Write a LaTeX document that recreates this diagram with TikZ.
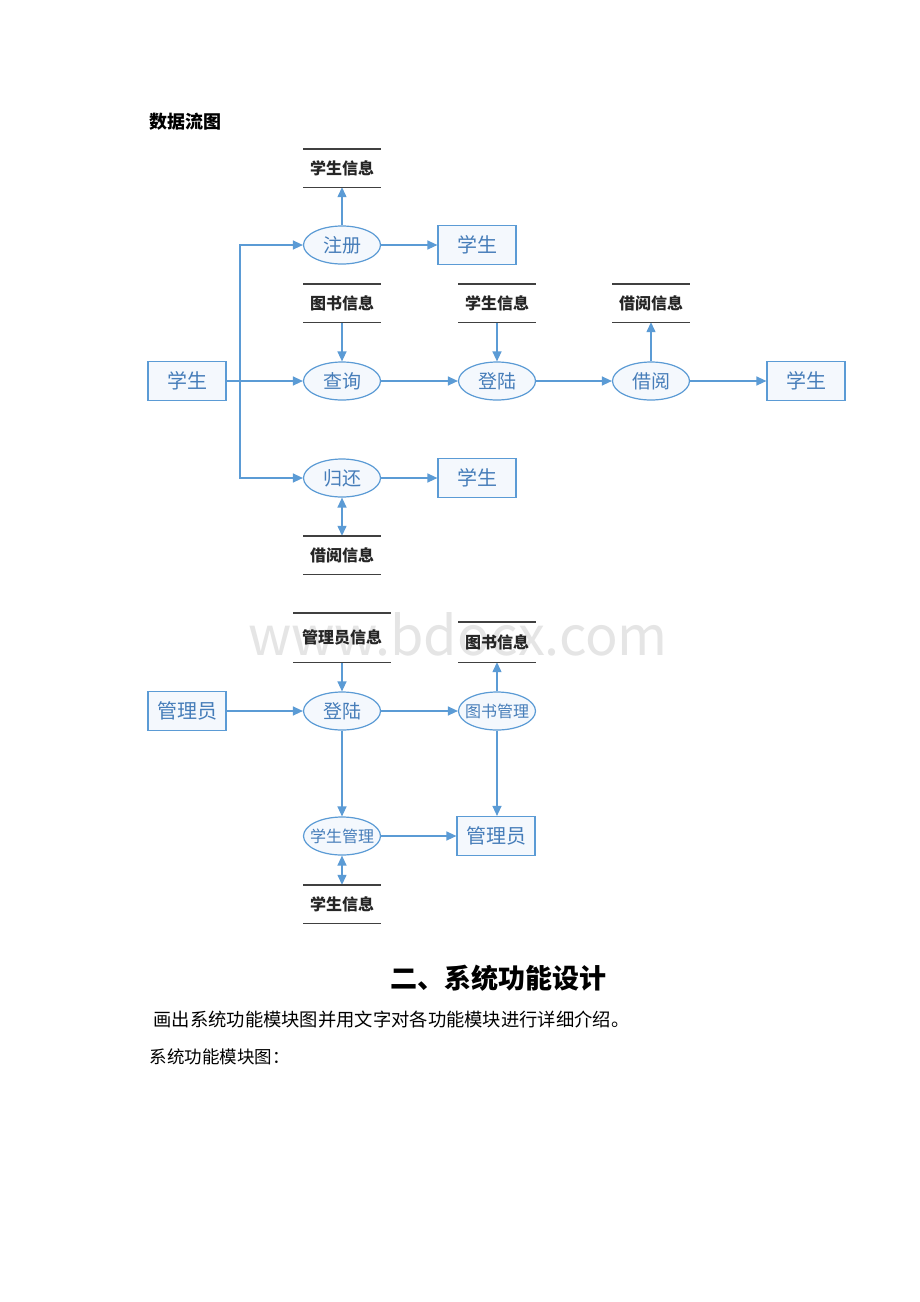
\documentclass[tikz,border=0pt]{standalone}
\usepackage{fontspec}
\setmainfont{Noto Sans CJK SC}
\usetikzlibrary{shapes.geometric,arrows.meta}
\definecolor{flowblue}{RGB}{91,155,213}
\definecolor{txtblue}{RGB}{70,125,185}
\definecolor{nodefill}{RGB}{244,248,253}
\definecolor{storeline}{RGB}{64,64,64}
\tikzset{
  proc/.style={ellipse,draw=flowblue,line width=1.2pt,fill=nodefill,text=txtblue,
    minimum width=77pt,minimum height=38pt,inner sep=0pt,font=\fontsize{19}{19}\selectfont},
  procsm/.style={proc,inner xsep=-8pt,font=\fontsize{16}{16}\selectfont},
  ent/.style={rectangle,draw=flowblue,line width=1.2pt,fill=nodefill,text=txtblue,
    minimum width=78pt,minimum height=39pt,inner sep=0pt,font=\fontsize{20}{20}\selectfont},
  store/.style={rectangle,minimum width=77pt,minimum height=38pt,inner sep=0pt,
    text=black!85,font=\fontsize{16}{16}\selectfont\bfseries},
  sline/.style={draw=storeline,line width=1.4pt},
  flow/.style={draw=flowblue,line width=1.3pt,-{Triangle[length=10pt,width=9pt]}},
  flowboth/.style={draw=flowblue,line width=1.3pt,{Triangle[length=10pt,width=9pt]}-{Triangle[length=10pt,width=9pt]}},
}
\begin{document}
\begin{tikzpicture}[x=1pt,y=-1pt]
\useasboundingbox[fill=white] (0,0) rectangle (920,1302);
% watermark
\node[text=black!10,font=\fontsize{54}{54}\selectfont] (wm) at (458,634) {www.bdocx.com};
% title
\node[anchor=west,font=\fontsize{18}{18}\selectfont\bfseries] (title) at (146,122) {数据流图};

% ---- diagram 1 ----
\node[store] (s1) at (342,168) {学生信息};
\node[proc] (reg) at (342,245) {注册};
\node[ent] (stuA) at (477,245) {学生};
\node[ent] (stu0) at (187,381) {学生};
\node[store] (s2) at (342,303) {图书信息};
\node[proc] (query) at (342,381) {查询};
\node[store] (s3) at (497,303) {学生信息};
\node[proc] (login) at (497,381) {登陆};
\node[store] (s4) at (651,303) {借阅信息};
\node[proc] (borrow) at (651,381) {借阅};
\node[ent] (stuB) at (806,381) {学生};
\node[proc] (ret) at (342,478) {归还};
\node[ent] (stuC) at (477,478) {学生};
\node[store] (s5) at (342,555) {借阅信息};
\coordinate (j) at (240,381);

\draw[flow] (reg) -- (s1.south);
\draw[flow] (reg) -- (stuA);
\draw[flow] (stu0) -- (query);
\draw[flow] (j) |- (reg.west);
\draw[flow] (j) |- (ret.west);
\draw[flow] (s2.south) -- (query);
\draw[flow] (query) -- (login);
\draw[flow] (s3.south) -- (login);
\draw[flow] (login) -- (borrow);
\draw[flow] (borrow) -- (s4.south);
\draw[flow] (borrow) -- (stuB);
\draw[flow] (ret) -- (stuC);
\draw[flowboth] (ret) -- (s5.north);

% ---- diagram 2 ----
\node[store,minimum width=97pt,minimum height=49pt] (s6) at (342,637.5) {管理员信息};
\node[ent] (adm0) at (187,711) {管理员};
\node[proc] (login2) at (342,711) {登陆};
\node[procsm] (bookm) at (497,711) {图书管理};
\node[store,minimum height=40pt] (s7) at (497,642) {图书信息};
\node[procsm] (stum) at (342,836) {学生管理};
\node[ent] (adm1) at (496,836) {管理员};
\node[store] (s8) at (342,904) {学生信息};

\draw[flow] (s6.south) -- (login2);
\draw[flow] (adm0) -- (login2);
\draw[flow] (login2) -- (bookm);
\draw[flow] (bookm) -- (s7.south);
\draw[flow] (login2) -- (stum);
\draw[flow] (bookm.south) -- (bookm.south |- adm1.north);
\draw[flow] (stum) -- (adm1);
\draw[flowboth] (stum) -- (s8.north);

\foreach \s in {s1,s2,s3,s4,s5,s6,s7,s8}{
  \draw[sline] (\s.north west) -- (\s.north east);
  \draw[sline] (\s.south west) -- (\s.south east);
}

% ---- text below ----
\node[font=\fontsize{27}{27}\selectfont\bfseries] (h2) at (498,978) {二、系统功能设计};
\node[anchor=west,font=\fontsize{18.3}{18.3}\selectfont] (p1) at (150,1020) {画出系统功能模块图并用文字对各功能模块进行详细介绍。};
\node[anchor=west,font=\fontsize{17.5}{17.5}\selectfont] (p2) at (146,1057) {系统功能模块图：};
\end{tikzpicture}
\end{document}
